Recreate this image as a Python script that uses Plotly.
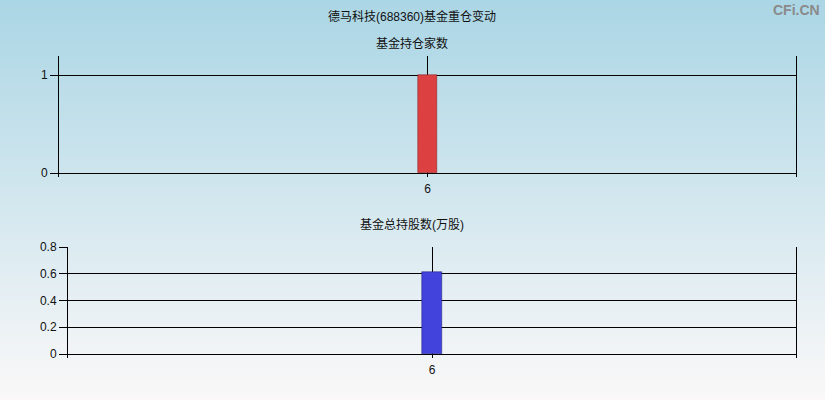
import plotly.graph_objects as go

# ---- data ----
categories = ["6"]
fund_count = [1]
fund_shares = [0.61]
main_title = "德马科技(688360)基金重仓变动"
title_top = "基金持仓家数"
title_bottom = "基金总持股数(万股)"
top_ticks = [0, 1]
bottom_ticks = [0, 0.2, 0.4, 0.6, 0.8]

W, H = 825, 400
FONT = "Liberation Sans, Arial, Noto Sans CJK SC, sans-serif"

fig = go.Figure()

fig.add_trace(go.Bar(
    x=categories, y=fund_count, xaxis="x", yaxis="y",
    width=0.027,
    marker=dict(color="#dc4040", line=dict(color="#7a1a1a", width=0.5)),
    hoverinfo="x+y", showlegend=False,
))
fig.add_trace(go.Bar(
    x=categories, y=fund_shares, xaxis="x2", yaxis="y2",
    width=0.0275,
    marker=dict(color="#4242dc", line=dict(color="#1a1a70", width=0.5)),
    hoverinfo="x+y", showlegend=False,
))

# gradient background via stacked rectangles
n = 100
c0 = (171, 214, 229)
c1 = (250, 248, 248)
shapes = []
for i in range(n):
    t = i / (n - 1)
    r = round(c0[0] + (c1[0] - c0[0]) * t)
    g = round(c0[1] + (c1[1] - c0[1]) * t)
    b = round(c0[2] + (c1[2] - c0[2]) * t)
    shapes.append(dict(
        type="rect", xref="paper", yref="paper", layer="below",
        x0=0, x1=1, y0=1 - (i + 1) / n - 0.002, y1=1 - i / n,
        fillcolor=f"rgb({r},{g},{b})", line=dict(width=0),
    ))

axis_common = dict(
    showgrid=True, gridcolor="black", gridwidth=1,
    tickfont=dict(family=FONT, size=12, color="#111"),
    zeroline=False, automargin=False,
)

fig.update_layout(
    width=W, height=H, autosize=False,
    margin=dict(l=0, r=0, t=0, b=0, pad=0, autoexpand=False),
    paper_bgcolor="rgb(250,248,248)",
    plot_bgcolor="rgba(0,0,0,0)",
    shapes=shapes,
    bargap=0,
    xaxis=dict(
        domain=[59 / W, 796 / W], anchor="y",
        type="category", range=[-0.5, 0.5],
        showline=False, ticks="", ticklen=0, ticklabelstandoff=3,
        **axis_common,
    ),
    yaxis=dict(
        domain=[1 - 177 / H, 1 - 56 / H], anchor="x",
        range=[-4 / 98, 1 + 19 / 98],
        tickvals=top_ticks, ticks="outside", ticklen=8, tickcolor="black",
        showline=True, linecolor="black", linewidth=1, mirror=True,
        **axis_common,
    ),
    xaxis2=dict(
        domain=[68 / W, 796 / W], anchor="y2",
        type="category", range=[-0.5, 0.5],
        showline=False, ticks="", ticklen=0, ticklabelstandoff=3,
        **axis_common,
    ),
    yaxis2=dict(
        domain=[1 - 358 / H, 1 - 247 / H], anchor="x2",
        range=[-4 / 133.75, 0.8],
        tickvals=bottom_ticks, ticktext=["0", "0.2", "0.4", "0.6", "0.8"],
        ticks="outside", ticklen=8, tickcolor="black",
        showline=True, linecolor="black", linewidth=1, mirror=True,
        **axis_common,
    ),
    annotations=[
        dict(text=main_title, x=412 / W, y=1 - 17 / H, xref="paper", yref="paper",
             showarrow=False, font=dict(family=FONT, size=12, color="#111"),
             xanchor="center", yanchor="middle"),
        dict(text=title_top, x=412 / W, y=1 - 43 / H, xref="paper", yref="paper",
             showarrow=False, font=dict(family=FONT, size=12, color="#111"),
             xanchor="center", yanchor="middle"),
        dict(text=title_bottom, x=412 / W, y=1 - 224 / H, xref="paper", yref="paper",
             showarrow=False, font=dict(family=FONT, size=12, color="#111"),
             xanchor="center", yanchor="middle"),
        dict(text="<b>CFi.CN</b>", x=822 / W, y=1 - 10 / H, xref="paper", yref="paper",
             showarrow=False, font=dict(family=FONT, size=14, color="#8a8a8a"),
             xanchor="right", yanchor="middle"),
    ],
)

fig.write_html(
    "out.html",
    config={"displayModeBar": False, "responsive": False},
    default_width="825px", default_height="400px",
    post_script="document.documentElement.style.margin='0';document.body.style.margin='0';document.body.style.padding='0';document.body.style.overflow='hidden';",
)
